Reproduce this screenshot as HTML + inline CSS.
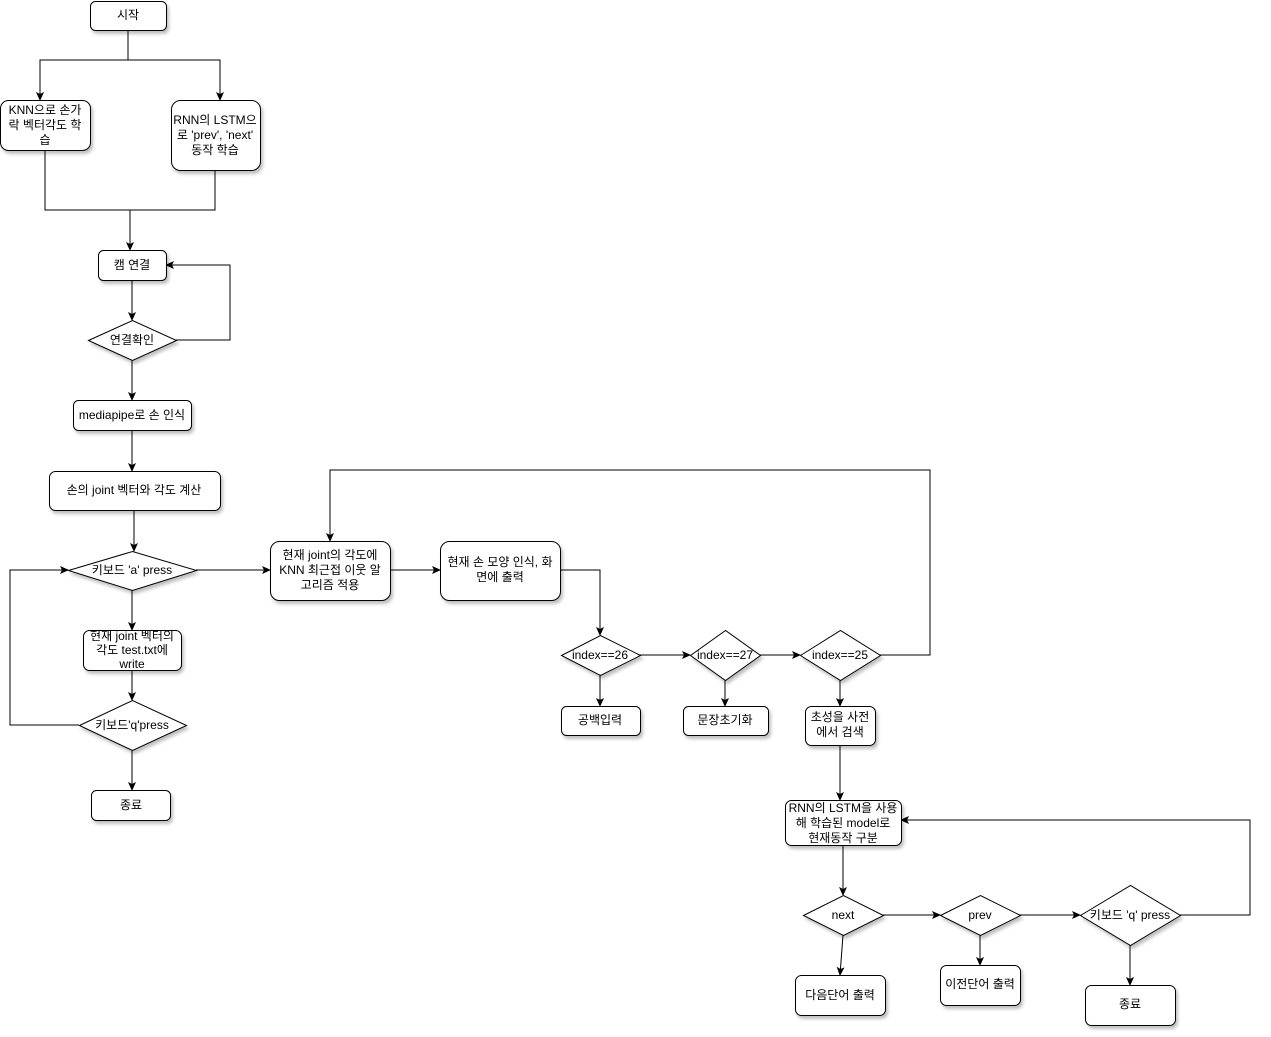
<!DOCTYPE html>
<html><head><meta charset="utf-8"><style>
html,body{margin:0;padding:0;background:#fff;}
svg{display:block;font-family:"Liberation Sans","Noto Sans CJK KR",sans-serif;font-size:12px;}
</style></head><body>
<svg width="1271" height="1037" viewBox="0 0 1271 1037" xmlns="http://www.w3.org/2000/svg">
<defs>
<marker id="a" markerWidth="10" markerHeight="10" refX="8" refY="5" orient="auto" markerUnits="userSpaceOnUse"><path d="M0,1 L9,5 L0,9 L2,5 Z" fill="#000"/></marker>
<filter id="s" x="-10%" y="-10%" width="130%" height="140%"><feDropShadow dx="2" dy="3" stdDeviation="1.5" flood-color="#000" flood-opacity="0.25"/></filter>
</defs>
<g fill="none" stroke="#000" stroke-width="1">
<path d="M128,30V60H40V100" marker-end="url(#a)"/>
<path d="M128,60H220V100" marker-end="url(#a)"/>
<path d="M45,150V210H215V170"/>
<path d="M130,210V250" marker-end="url(#a)"/>
<path d="M132,280V320" marker-end="url(#a)"/>
<path d="M176,340H230V265H166" marker-end="url(#a)"/>
<path d="M132,360V400" marker-end="url(#a)"/>
<path d="M132,430V471" marker-end="url(#a)"/>
<path d="M134,510V551" marker-end="url(#a)"/>
<path d="M196,570H270" marker-end="url(#a)"/>
<path d="M132,590V630" marker-end="url(#a)"/>
<path d="M132,670V700" marker-end="url(#a)"/>
<path d="M132,750V790" marker-end="url(#a)"/>
<path d="M79,725H10V570H68" marker-end="url(#a)"/>
<path d="M390,570H440" marker-end="url(#a)"/>
<path d="M560,570H600V635" marker-end="url(#a)"/>
<path d="M640,655H690" marker-end="url(#a)"/>
<path d="M760,655H800" marker-end="url(#a)"/>
<path d="M880,655H930V470H330V541" marker-end="url(#a)"/>
<path d="M600,675V706" marker-end="url(#a)"/>
<path d="M725,680V706" marker-end="url(#a)"/>
<path d="M840,680V706" marker-end="url(#a)"/>
<path d="M840,745V800" marker-end="url(#a)"/>
<path d="M843,845V895" marker-end="url(#a)"/>
<path d="M883,915H940" marker-end="url(#a)"/>
<path d="M1020,915H1080" marker-end="url(#a)"/>
<path d="M1180,915H1250V820H901" marker-end="url(#a)"/>
<path d="M843,935L840,975" marker-end="url(#a)"/>
<path d="M980,935V965" marker-end="url(#a)"/>
<path d="M1130,945V985" marker-end="url(#a)"/>
</g>
<g fill="#fff" stroke="#000" stroke-width="1" filter="url(#s)">
<rect x="90.5" y="1.5" width="76" height="29" rx="5"/>
<rect x="0.5" y="100.5" width="90" height="50" rx="8"/>
<rect x="171.5" y="100.5" width="89" height="70" rx="9"/>
<rect x="98.5" y="250.5" width="68" height="30" rx="5"/>
<path d="M88.5,340.5L132.5,320.5L176.5,340.5L132.5,360.5Z"/>
<rect x="73.5" y="400.5" width="118" height="30" rx="5"/>
<rect x="49.5" y="471.5" width="171" height="39" rx="6"/>
<path d="M68.5,570.5L132.5,551.5L196.5,570.5L132.5,590.5Z"/>
<rect x="83.5" y="630.5" width="98" height="40" rx="6"/>
<path d="M79.5,725.5L132.5,700.5L186.5,725.5L132.5,750.5Z"/>
<rect x="91.5" y="790.5" width="79" height="30" rx="5"/>
<rect x="270.5" y="541.5" width="120" height="59" rx="9"/>
<rect x="440.5" y="541.5" width="120" height="59" rx="9"/>
<path d="M561.5,655.5L600.5,635.5L640.5,655.5L600.5,675.5Z"/>
<path d="M690.5,655.5L725.5,630.5L760.5,655.5L725.5,680.5Z"/>
<path d="M800.5,655.5L840.5,630.5L880.5,655.5L840.5,680.5Z"/>
<rect x="561.5" y="706.5" width="79" height="29" rx="5"/>
<rect x="683.5" y="706.5" width="85" height="29" rx="5"/>
<rect x="805.5" y="706.5" width="70" height="39" rx="6"/>
<rect x="785.5" y="800.5" width="116" height="45" rx="6"/>
<path d="M803.5,915.5L843.5,895.5L883.5,915.5L843.5,935.5Z"/>
<path d="M940.5,915.5L980.5,895.5L1020.5,915.5L980.5,935.5Z"/>
<path d="M1080.5,915.5L1130.5,885.5L1180.5,915.5L1130.5,945.5Z"/>
<rect x="795.5" y="975.5" width="90" height="40" rx="6"/>
<rect x="940.5" y="965.5" width="80" height="40" rx="6"/>
<rect x="1085.5" y="985.5" width="90" height="40" rx="6"/>
</g>
<g fill="#000" text-anchor="middle">
<text x="128" y="19">시작</text>
<text x="45" y="114">KNN으로 손가</text><text x="45" y="129">락 벡터각도 학</text><text x="45" y="144">습</text>
<text x="215" y="124">RNN의 LSTM으</text><text x="215" y="139">로 'prev', 'next'</text><text x="215" y="154">동작 학습</text>
<text x="132" y="269">캠 연결</text>
<text x="132" y="344">연결확인</text>
<text x="132" y="419">mediapipe로 손 인식</text>
<text x="134" y="494">손의 joint 벡터와 각도 계산</text>
<text x="132" y="574">키보드 'a' press</text>
<text x="132" y="640">현재 joint 벡터의</text><text x="132" y="654">각도 test.txt에</text><text x="132" y="668">write</text>
<text x="132" y="729">키보드'q'press</text>
<text x="131" y="809">종료</text>
<text x="330" y="559">현재 joint의 각도에</text><text x="330" y="574">KNN 최근접 이웃 알</text><text x="330" y="589">고리즘 적용</text>
<text x="500" y="566">현재 손 모양 인식, 화</text><text x="500" y="581">면에 출력</text>
<text x="600" y="659">index==26</text>
<text x="725" y="659">index==27</text>
<text x="840" y="659">index==25</text>
<text x="600" y="724">공백입력</text>
<text x="725" y="724">문장초기화</text>
<text x="840" y="721">초성을 사전</text><text x="840" y="736">에서 검색</text>
<text x="843" y="812">RNN의 LSTM을 사용</text><text x="843" y="827">해 학습된 model로</text><text x="843" y="842">현재동작 구분</text>
<text x="843" y="919">next</text>
<text x="980" y="919">prev</text>
<text x="1130" y="919">키보드 'q' press</text>
<text x="840" y="999">다음단어 출력</text>
<text x="980" y="988">이전단어 출력</text>
<text x="1130" y="1008">종료</text>
</g>
</svg>
</body></html>
